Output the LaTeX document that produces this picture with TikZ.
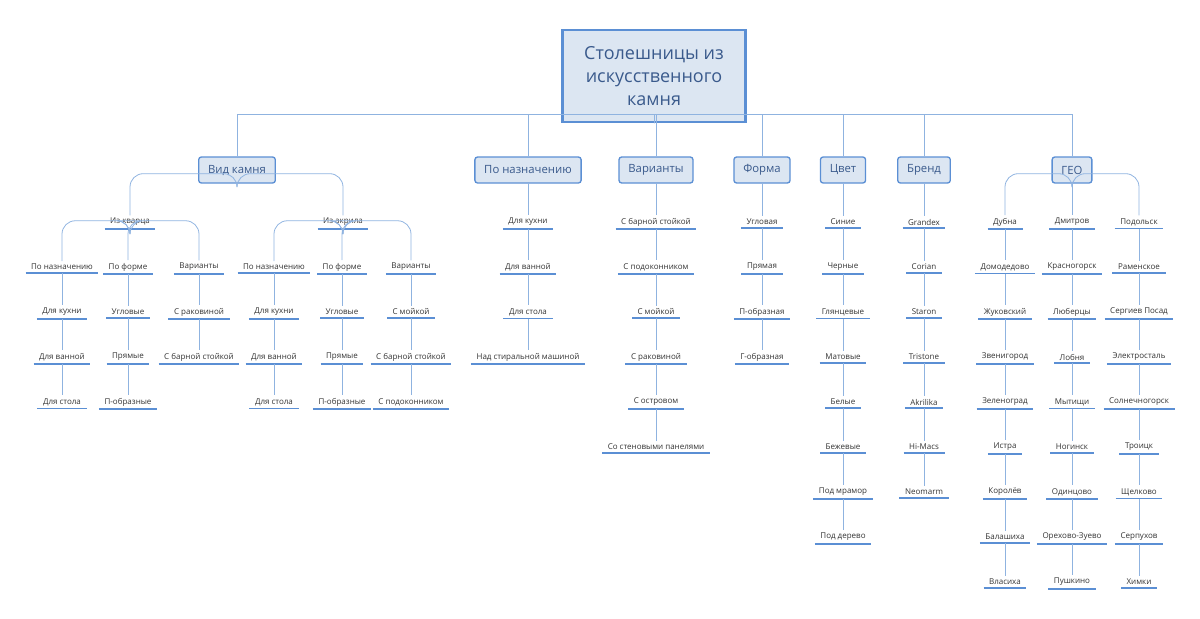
\documentclass[tikz,border=0pt]{standalone}
\usepackage{fontspec}
\setmainfont{Open Sans}
\definecolor{boxfill}{HTML}{DCE6F2}
\definecolor{boxline}{HTML}{5B8FD4}
\definecolor{linkcol}{HTML}{8FB3E0}
\definecolor{boxtext}{HTML}{3A5A8C}
\tikzset{
  link/.style={draw=linkcol, line width=0.6pt},
  curvelink/.style={link, rounded corners=10pt},
  topic/.style={draw=boxline, fill=boxfill, line width=1pt, rounded corners=2pt,
    text=boxtext, font=\fontsize{8.5}{10}\selectfont, minimum height=19.5pt, inner xsep=7pt},
  leaf/.style={font=\fontsize{6}{7}\selectfont, text=black!80, inner xsep=4pt, inner ysep=2pt,
    append after command={(\tikzlastnode.south west) edge[draw=boxline, line width=1.4pt] (\tikzlastnode.south east)}}
}
% column of leaves: name, x, first y, list
\newcommand\leafcol[4]{%
  \foreach \t [count=\i] in {#4} {
    \node[leaf] (#1\i) at (#2,{#3+45*(\i-1)}) {\t};
    \ifnum\i>1 \pgfmathtruncatemacro\j{\i-1}\draw[link] (#1\j.south) -- (#1\i.north);\fi
  }}
\begin{document}
\begin{tikzpicture}[x=0.75pt,y=-0.75pt]
  \useasboundingbox (0,0) rectangle (1200,618);
  \node[draw=boxline, fill=boxfill, line width=2pt, text=boxtext, align=center,
    font=\fontsize{13.5}{17}\selectfont, minimum width=137pt, minimum height=69pt] (root) at (654,76)
    {Столешницы из\\искусственного\\камня};
  % main topics
  \node[topic] (stone) at (237,170) {Вид камня};
  \node[topic] (purpose) at (528,170) {По назначению};
  \node[topic] (variants) at (656,170) {Варианты};
  \node[topic] (shape) at (762,170) {Форма};
  \node[topic] (color) at (843,170) {Цвет};
  \node[topic] (brand) at (924,170) {Бренд};
  \node[topic] (geo) at (1072,170) {ГЕО};
  \foreach \n in {stone,purpose,variants,shape,color,brand,geo}
    \draw[link] (root.south) -- ++(0,-9) -| (\n.north);

  % stone types
  \node[leaf] (quartz) at (130,222) {Из кварца};
  \node[leaf] (acryl) at (343,222) {Из акрила};
  \draw[curvelink] (stone.south) -- ++(0,-10) -| (quartz.north);
  \draw[curvelink] (stone.south) -- ++(0,-10) -| (acryl.north);
  \leafcol{qp}{62}{267}{По назначению, Для кухни, Для ванной, Для стола}
  \leafcol{qf}{128}{267}{По форме, Угловые, Прямые, П-образные}
  \leafcol{qv}{199}{267}{Варианты, С раковиной, С барной стойкой}
  \leafcol{ap}{274}{267}{По назначению, Для кухни, Для ванной, Для стола}
  \leafcol{af}{342}{267}{По форме, Угловые, Прямые, П-образные}
  \leafcol{av}{411}{267}{Варианты, С мойкой, С барной стойкой, С подоконником}
  \foreach \n in {qp1,qf1,qv1}
    \draw[curvelink] (quartz.south) -- ++(0,-8) -| (\n.north);
  \foreach \n in {ap1,af1,av1}
    \draw[curvelink] (acryl.south) -- ++(0,-8) -| (\n.north);

  % single columns
  \leafcol{pu}{528}{222}{Для кухни, Для ванной, Для стола, Над стиральной машиной}
  \leafcol{va}{656}{222}{С барной стойкой, С подоконником, С мойкой, С раковиной, С островом, Со стеновыми панелями}
  \leafcol{sh}{762}{222}{Угловая, Прямая, П-образная, Г-образная}
  \leafcol{co}{843}{222}{Синие, Черные, Глянцевые, Матовые, Белые, Бежевые, Под мрамор, Под дерево}
  \leafcol{br}{924}{222}{Grandex, Corian, Staron, Tristone, Akrilika, Hi-Macs, Neomarm}
  \draw[link] (purpose.south) -- (pu1.north);
  \draw[link] (variants.south) -- (va1.north);
  \draw[link] (shape.south) -- (sh1.north);
  \draw[link] (color.south) -- (co1.north);
  \draw[link] (brand.south) -- (br1.north);

  % geo
  \leafcol{ga}{1005}{222}{Дубна, Домодедово, Жуковский, Звенигород, Зеленоград, Истра, Королёв, Балашиха, Власиха}
  \leafcol{gb}{1072}{222}{Дмитров, Красногорск, Люберцы, Лобня, Мытищи, Ногинск, Одинцово, Орехово-Зуево, Пушкино}
  \leafcol{gc}{1139}{222}{Подольск, Раменское, Сергиев Посад, Электросталь, Солнечногорск, Троицк, Щелково, Серпухов, Химки}
  \draw[curvelink] (geo.south) -- ++(0,-10) -| (ga1.north);
  \draw[link] (geo.south) -- (gb1.north);
  \draw[curvelink] (geo.south) -- ++(0,-10) -| (gc1.north);
\end{tikzpicture}
\end{document}
